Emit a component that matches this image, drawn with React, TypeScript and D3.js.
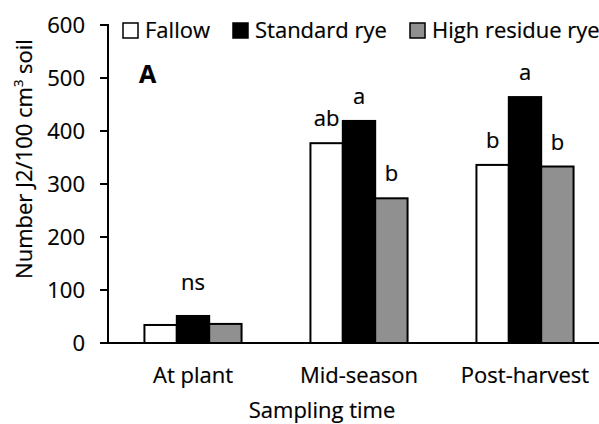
import React from "react";
import * as d3 from "d3";

const categories = ["At plant", "Mid-season", "Post-harvest"];
const seriesNames = ["Fallow", "Standard rye", "High residue rye"];
const fallow = [34, 377, 336];
const standardRye = [51, 419, 464];
const highResidueRye = [36, 273, 333];
const letters = [
  ["", "", ""],
  ["ab", "a", "b"],
  ["b", "a", "b"],
];
const groupNotes = ["ns", "", ""];
const yTicks = [0, 100, 200, 300, 400, 500, 600];

const colors = ["#ffffff", "#000000", "#909090"];
const FONT = "'Open Sans', sans-serif";

const T = ({ x, y, anchor = "start", size = 22, weight = "normal", children }: any) => (
  <text
    x={x}
    y={y}
    textAnchor={anchor}
    fontFamily={FONT}
    fontSize={size}
    fontWeight={weight}
    fill="#000"
    stroke="#000"
    strokeWidth={0.2}
  >
    {children}
  </text>
);

export default function App() {
  const width = 599;
  const height = 424;
  const axisX = 108;

  const y = d3.scaleLinear().domain([0, 600]).range([343, 25]);
  const x = d3.scaleBand().domain(categories).range([110, 608]);
  const groupW = x.bandwidth() * 0.585;
  const inner = d3.scaleBand().domain(seriesNames).range([0, groupW]);
  const series = [fallow, standardRye, highResidueRye];

  const legendX = [123, 233, 410];

  return (
    <svg width={width} height={height} style={{ position: "absolute", left: 0, top: 0 }}>
      {/* bars */}
      {categories.map((c, ci) => {
        const gx = x(c)! + (x.bandwidth() - groupW) / 2;
        return (
          <g key={c}>
            {seriesNames.map((s, si) => {
              const v = series[si][ci];
              const bx = gx + inner(s)!;
              return (
                <g key={s}>
                  <rect
                    x={bx}
                    y={y(v)}
                    width={inner.bandwidth()}
                    height={y(0) - y(v)}
                    fill={colors[si]}
                    stroke="#000"
                    strokeWidth={2}
                  />
                  {letters[ci][si] && (
                    <T x={bx + inner.bandwidth() / 2} y={y(v) - 17} anchor="middle">
                      {letters[ci][si]}
                    </T>
                  )}
                </g>
              );
            })}
            {groupNotes[ci] && (
              <T x={x(c)! + x.bandwidth() / 2} y={290} anchor="middle">
                {groupNotes[ci]}
              </T>
            )}
            <T x={x(c)! + x.bandwidth() / 2} y={383} anchor="middle">
              {c}
            </T>
          </g>
        );
      })}

      {/* axes */}
      <line x1={axisX} x2={width} y1={y(0)} y2={y(0)} stroke="#000" strokeWidth={2} />
      <line x1={axisX} x2={axisX} y1={y(600) - 1} y2={y(0)} stroke="#000" strokeWidth={2} />
      {yTicks.map((t) => (
        <g key={t}>
          <line x1={axisX - 8} x2={axisX} y1={y(t)} y2={y(t)} stroke="#000" strokeWidth={2} />
          <T x={85} y={y(t) + 8} anchor="end">
            {t}
          </T>
        </g>
      ))}

      {/* axis titles */}
      <T x={322} y={418} anchor="middle">
        Sampling time
      </T>
      <text
        transform="translate(32,159) rotate(-90)"
        textAnchor="middle"
        fontFamily={FONT}
        fontSize={22}
        fill="#000"
        stroke="#000"
        strokeWidth={0.2}
      >
        Number J2/100 cm<tspan fontSize={13} dy={-9}>3</tspan>
        <tspan dy={9}> soil</tspan>
      </text>

      {/* panel letter */}
      <T x={139} y={83} size={25} weight="bold">
        A
      </T>

      {/* legend */}
      {seriesNames.map((s, i) => (
        <g key={s}>
          <rect
            x={legendX[i]}
            y={23}
            width={15}
            height={15}
            fill={colors[i]}
            stroke="#000"
            strokeWidth={1.5}
          />
          <T x={legendX[i] + 22} y={38}>
            {s}
          </T>
        </g>
      ))}
    </svg>
  );
}
